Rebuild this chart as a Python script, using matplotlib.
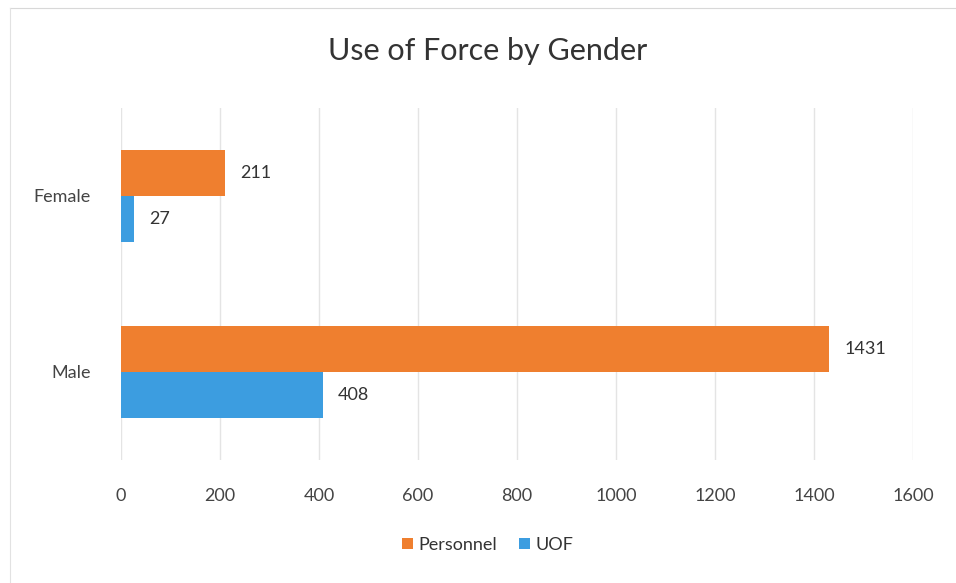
import matplotlib.pyplot as plt
import numpy as np
from matplotlib.lines import Line2D

plt.rcParams['font.family'] = ['Lato', 'DejaVu Sans']

categories = ["Male", "Female"]
personnel = [1431, 211]
uof = [408, 27]

orange = "#EF7F2F"
blue = "#3C9DE0"

fig = plt.figure(figsize=(9.56, 5.83), dpi=100)
ax = fig.add_axes([0.1266, 0.211, 0.8284, 0.604])

y = np.arange(len(categories))
h = 0.262

bars_p = ax.barh(y + h / 2, personnel, height=h, color=orange, label="Personnel")
bars_u = ax.barh(y - h / 2, uof, height=h, color=blue, label="UOF")

# value labels right of bars
for bars in (bars_p, bars_u):
    for b in bars:
        ax.text(b.get_width() + 30, b.get_y() + b.get_height() / 2, str(int(b.get_width())),
                va="center", ha="left", fontsize=13, color="#333333")

ax.set_xlim(0, 1600)
ax.set_ylim(-0.5, 1.5)
ax.set_xticks(range(0, 1601, 200))
ax.set_yticks(y)
ax.set_yticklabels(categories)
ax.tick_params(axis="both", length=0, labelsize=13, labelcolor="#444444")
ax.tick_params(axis="x", pad=20)
ax.tick_params(axis="y", pad=22)

ax.grid(axis="x", color="#e4e4e4", linewidth=1)
ax.set_axisbelow(True)
for s in ax.spines.values():
    s.set_visible(False)

# faint chart border (top and left) as in the scan
fig.add_artist(Line2D([0.01, 1.0], [0.986, 0.986], color="#d8d8d8", linewidth=0.8))
fig.add_artist(Line2D([0.01, 0.01], [0.0, 0.986], color="#e2e2e2", linewidth=0.8))

fig.text(0.51, 0.913, "Use of Force by Gender", ha="center", va="center", fontsize=22, color="#333333")

fig.legend(handles=[bars_p, bars_u], labels=["Personnel", "UOF"], loc="center",
           bbox_to_anchor=(0.51, 0.065), ncol=2, frameon=False, fontsize=13,
           handlelength=0.6, handleheight=0.6, handletextpad=0.3, columnspacing=1.2,
           labelcolor="#333333")

fig.savefig("out.png", dpi=100)
